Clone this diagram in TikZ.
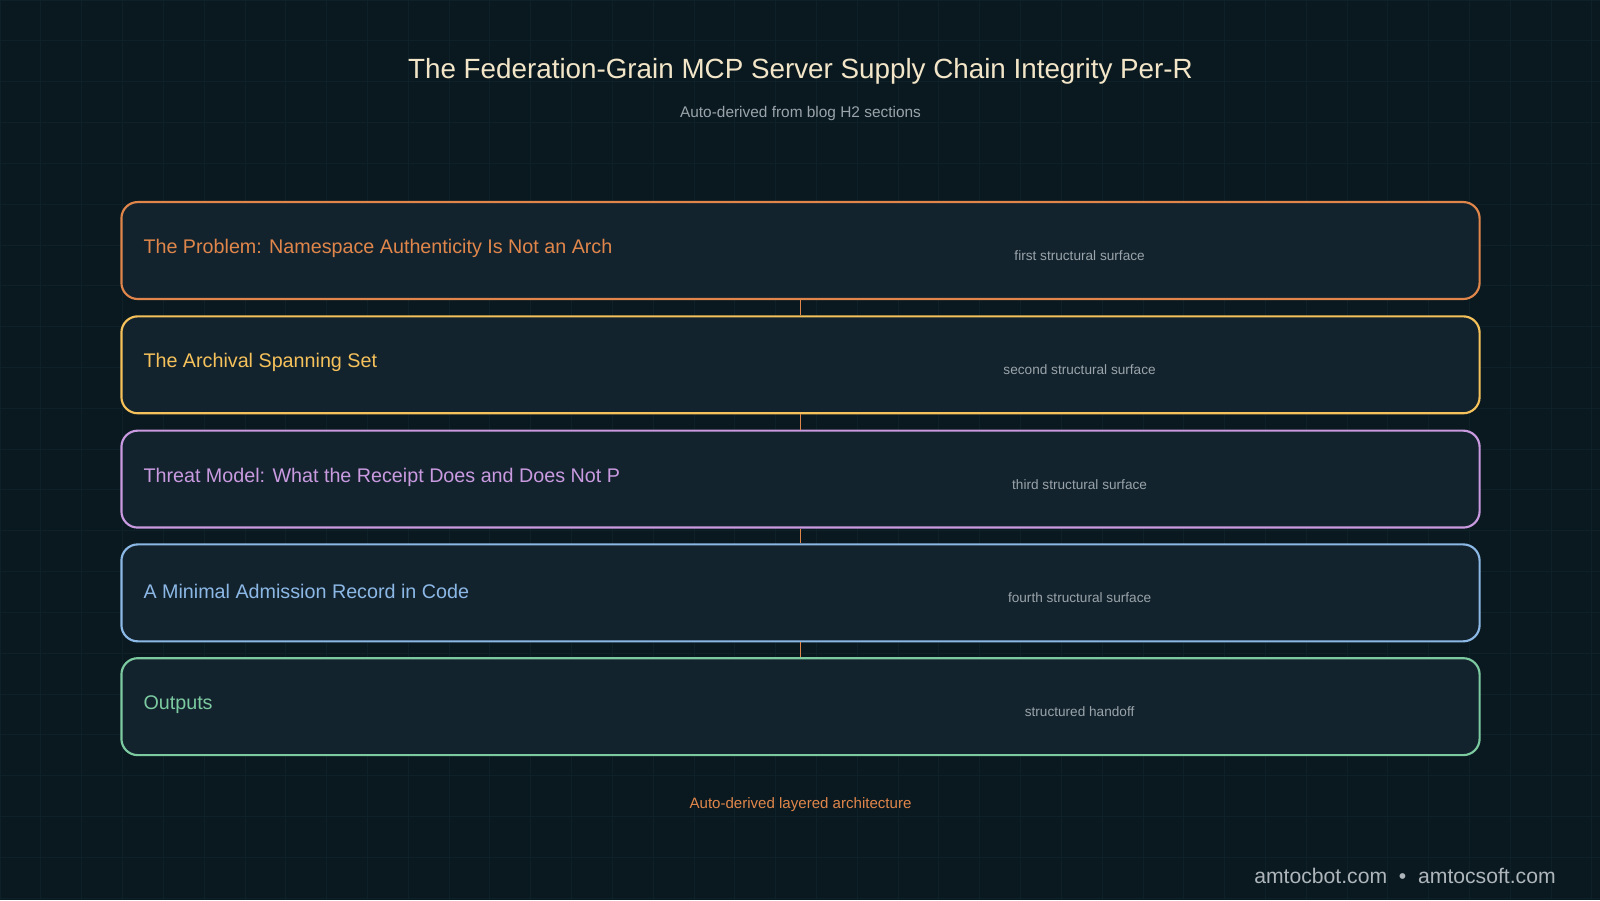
\documentclass[tikz,border=0pt]{standalone}
\usepackage{fontspec}
\setmainfont{Liberation Sans}
\usetikzlibrary{calc}
\usetikzlibrary{positioning}
\definecolor{bgcol}{HTML}{0A1920}
\definecolor{gridcol}{HTML}{0F2128}
\definecolor{boxfill}{HTML}{13232E}
\definecolor{cOrange}{HTML}{E0864A}
\definecolor{cYellow}{HTML}{F5C15A}
\definecolor{cPurple}{HTML}{C99AE0}
\definecolor{cBlue}{HTML}{8CB8E6}
\definecolor{cGreen}{HTML}{7CCAA0}
\definecolor{titlecol}{HTML}{F3E6C8}
\definecolor{subcol}{HTML}{9AA4AA}
\tikzstyle{layer} = [draw, line width=0.6pt, rounded corners=1.6mm, fill=boxfill, minimum width=13.31cm, minimum height=0.95cm, inner sep=0]
\tikzstyle{layertext} = [anchor=west, font=\fontsize{5.5pt}{6.5pt}\selectfont, inner sep=0]
\tikzstyle{subtext} = [text=subcol, font=\fontsize{3.8pt}{4.5pt}\selectfont, inner sep=0]
\tikzstyle{link} = [draw=cOrange, line width=0.5pt]

\begin{document}
\begin{tikzpicture}
    \fill[bgcol] (0,0) rectangle (15.68,-8.82);
    \useasboundingbox (0,0) rectangle (15.68,-8.82);
    \draw[gridcol, line width=0.2pt, step=0.4] (0,-8.82) grid (15.68,0);

    \node[text=titlecol, font=\fontsize{7.75pt}{9pt}\selectfont] (title) at (7.845,-0.70) {The Federation-Grain MCP Server Supply Chain Integrity Per-R};
    \node[subtext, font=\fontsize{4.3pt}{5pt}\selectfont] (subtitle) at (7.845,-1.11) {Auto-derived from blog H2 sections};

    \node[layer, draw=cOrange] (problem) at (7.845,-2.455) {};
    \node[layertext, text=cOrange] (problem_lbl) at ($(problem.west)+(0.22,0.02)$) {The Problem: Namespace Authenticity Is Not an Arch};
    \node[subtext] (problem_sub) at ($(problem.center)+(2.735,-0.05)$) {first structural surface};

    \node[layer, draw=cYellow] (spanning) at (7.845,-3.575) {};
    \node[layertext, text=cYellow] (spanning_lbl) at ($(spanning.west)+(0.22,0.02)$) {The Archival Spanning Set};
    \node[subtext] (spanning_sub) at ($(spanning.center)+(2.735,-0.05)$) {second structural surface};

    \node[layer, draw=cPurple] (threat) at (7.845,-4.695) {};
    \node[layertext, text=cPurple] (threat_lbl) at ($(threat.west)+(0.22,0.02)$) {Threat Model: What the Receipt Does and Does Not P};
    \node[subtext] (threat_sub) at ($(threat.center)+(2.735,-0.05)$) {third structural surface};

    \node[layer, draw=cBlue] (record) at (7.845,-5.81) {};
    \node[layertext, text=cBlue] (record_lbl) at ($(record.west)+(0.22,0.01)$) {A Minimal Admission Record in Code};
    \node[subtext] (record_sub) at ($(record.center)+(2.735,-0.05)$) {fourth structural surface};

    \node[layer, draw=cGreen] (outputs) at (7.845,-6.925) {};
    \node[layertext, text=cGreen] (outputs_lbl) at ($(outputs.west)+(0.22,0.02)$) {Outputs};
    \node[subtext] (outputs_sub) at ($(outputs.center)+(2.735,-0.05)$) {structured handoff};

    \draw[link] (problem) -- (spanning);
    \draw[link] (spanning) -- (threat);
    \draw[link] (threat) -- (record);
    \draw[link] (record) -- (outputs);

    \node[text=cOrange, font=\fontsize{4.2pt}{5pt}\selectfont] (caption) at (7.845,-7.88) {Auto-derived layered architecture};
    \node[anchor=east, text=subcol!80!white, font=\fontsize{5.9pt}{7pt}\selectfont] (mark) at (15.37,-8.58) {amtocbot.com \ \textbullet\ \ amtocsoft.com};
\end{tikzpicture}
\end{document}
